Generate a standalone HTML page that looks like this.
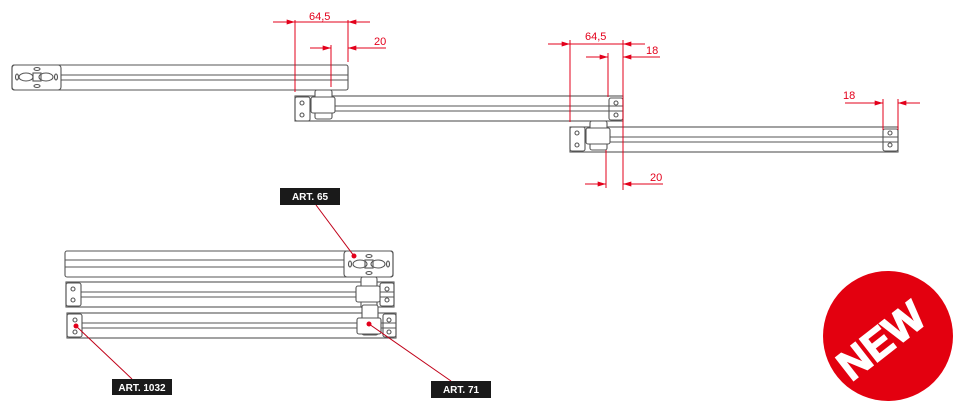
<!DOCTYPE html>
<html><head><meta charset="utf-8"><style>html,body{margin:0;padding:0;background:#fff;width:960px;height:414px;overflow:hidden}svg{display:block}</style></head>
<body>
<svg width="960" height="414" viewBox="0 0 960 414" xmlns="http://www.w3.org/2000/svg" font-family="Liberation Sans, sans-serif">
<defs>
<marker id="a" viewBox="0 0 10 6" refX="10" refY="3" markerWidth="10" markerHeight="5" orient="auto"><path d="M0,0L10,3L0,6z" fill="#e3001b"/></marker>
</defs>
<g fill="none" stroke="#555" stroke-width="1.1">
<rect x="12" y="65" width="336" height="25" rx="2"/>
<line x1="61" y1="75" x2="348" y2="75"/><line x1="61" y1="80" x2="348" y2="80"/>
<rect x="12" y="65" width="49" height="25" rx="3"/>
<ellipse cx="26" cy="77" rx="7" ry="4"/><ellipse cx="46" cy="77" rx="7" ry="4"/><rect x="33" y="73" width="8" height="8"/>
<ellipse cx="37" cy="69" rx="3" ry="1.5"/><ellipse cx="37" cy="86" rx="3" ry="1.5"/>
<ellipse cx="17" cy="77" rx="1.5" ry="3"/><ellipse cx="56" cy="77" rx="1.5" ry="3"/>
<rect x="295" y="96" width="328" height="25"/>
<line x1="310" y1="106" x2="623" y2="106"/><line x1="310" y1="111" x2="623" y2="111"/>
<rect x="295" y="97" width="15" height="24" rx="2"/><circle cx="302" cy="103" r="2"/><circle cx="302" cy="115" r="2"/>
<rect x="609" y="98" width="14" height="22" rx="2"/><circle cx="616" cy="103" r="2"/><circle cx="616" cy="115" r="2"/>
<rect x="315" y="90" width="17" height="29" rx="2" fill="#fff"/><rect x="311" y="97" width="24" height="16" rx="2" fill="#fff"/>
<rect x="570" y="127" width="328" height="25"/>
<line x1="585" y1="137" x2="898" y2="137"/><line x1="585" y1="142" x2="898" y2="142"/>
<rect x="570" y="127" width="15" height="24" rx="2"/><circle cx="577" cy="133" r="2"/><circle cx="577" cy="145" r="2"/>
<rect x="883" y="129" width="15" height="22" rx="2"/><circle cx="890" cy="133" r="2"/><circle cx="890" cy="145" r="2"/>
<rect x="590" y="121" width="17" height="29" rx="2" fill="#fff"/><rect x="586" y="128" width="24" height="16" rx="2" fill="#fff"/>
<rect x="65" y="251" width="328" height="26" rx="2"/>
<line x1="65" y1="260" x2="344" y2="260"/><line x1="65" y1="267" x2="344" y2="267"/>
<rect x="344" y="251" width="49" height="26" rx="3"/>
<ellipse cx="360" cy="264" rx="7" ry="4"/><ellipse cx="378" cy="264" rx="7" ry="4"/><rect x="365" y="260" width="8" height="8"/>
<ellipse cx="369" cy="256" rx="3" ry="1.5"/><ellipse cx="369" cy="273" rx="3" ry="1.5"/>
<ellipse cx="350" cy="264" rx="1.5" ry="3"/><ellipse cx="388" cy="264" rx="1.5" ry="3"/>
<rect x="66" y="282" width="328" height="25"/>
<line x1="81" y1="292" x2="394" y2="292"/><line x1="81" y1="297" x2="394" y2="297"/>
<rect x="66" y="283" width="15" height="23" rx="2"/><circle cx="73" cy="289" r="2"/><circle cx="73" cy="300" r="2"/>
<rect x="380" y="283" width="14" height="23" rx="2"/><circle cx="387" cy="289" r="2"/><circle cx="387" cy="300" r="2"/>
<rect x="361" y="277" width="16" height="31" rx="2" fill="#fff"/><rect x="356" y="286" width="24" height="16" rx="2" fill="#fff"/>
<rect x="67" y="313" width="329" height="25"/>
<line x1="82" y1="323" x2="396" y2="323"/><line x1="82" y1="328" x2="396" y2="328"/>
<rect x="67" y="314" width="15" height="23" rx="2"/><circle cx="75" cy="320" r="2"/><circle cx="75" cy="332" r="2"/>
<rect x="383" y="314" width="13" height="23" rx="2"/><circle cx="389" cy="320" r="2"/><circle cx="389" cy="332" r="2"/>
<rect x="362" y="305" width="16" height="30" rx="2" fill="#fff"/><rect x="357" y="318" width="24" height="16" rx="2" fill="#fff"/>
</g>
<g stroke="#e3001b" stroke-width="1" fill="none">
<line x1="295" y1="20" x2="295" y2="92"/><line x1="348" y1="20" x2="348" y2="62"/>
<line x1="273" y1="22" x2="295" y2="22" marker-end="url(#a)"/><line x1="295" y1="22" x2="348" y2="22"/><line x1="370" y1="22" x2="348" y2="22" marker-end="url(#a)"/>
<line x1="331" y1="45" x2="331" y2="87"/>
<line x1="310" y1="48" x2="331" y2="48" marker-end="url(#a)"/><line x1="386" y1="48" x2="348" y2="48" marker-end="url(#a)"/>
<line x1="570" y1="40" x2="570" y2="122"/><line x1="623" y1="40" x2="623" y2="190"/>
<line x1="548" y1="44" x2="570" y2="44" marker-end="url(#a)"/><line x1="570" y1="44" x2="623" y2="44"/><line x1="645" y1="44" x2="623" y2="44" marker-end="url(#a)"/>
<line x1="608" y1="53" x2="608" y2="97"/>
<line x1="586" y1="57" x2="608" y2="57" marker-end="url(#a)"/><line x1="660" y1="57" x2="623" y2="57" marker-end="url(#a)"/>
<line x1="606" y1="150" x2="606" y2="188"/>
<line x1="585" y1="184" x2="606" y2="184" marker-end="url(#a)"/><line x1="663" y1="184" x2="623" y2="184" marker-end="url(#a)"/>
<line x1="883" y1="99" x2="883" y2="130"/><line x1="898" y1="99" x2="898" y2="130"/>
<line x1="845" y1="103" x2="883" y2="103" marker-end="url(#a)"/><line x1="920" y1="103" x2="898" y2="103" marker-end="url(#a)"/>
</g>
<g fill="#e3001b" font-size="11">
<text x="309" y="20">64,5</text><text x="374" y="45">20</text>
<text x="585" y="40">64,5</text><text x="646" y="54">18</text>
<text x="650" y="181">20</text><text x="843" y="99">18</text>
</g>
<g stroke="#c00018" stroke-width="1">
<line x1="316" y1="205" x2="354" y2="256"/>
<line x1="132" y1="379" x2="76" y2="326"/>
<line x1="451" y1="381" x2="369" y2="324"/>
</g>
<g fill="#e3001b"><circle cx="354" cy="256" r="2.5"/><circle cx="76" cy="326" r="2.5"/><circle cx="369" cy="324" r="2.5"/></g>
<g font-size="10" font-weight="bold" fill="#fff">
<rect x="280" y="188" width="60" height="17" fill="#1a1a1a"/><text x="310" y="200" text-anchor="middle">ART. 65</text>
<rect x="112" y="379" width="60" height="16" fill="#1a1a1a"/><text x="142" y="391" text-anchor="middle">ART. 1032</text>
<rect x="431" y="381" width="60" height="17" fill="#1a1a1a"/><text x="461" y="393" text-anchor="middle">ART. 71</text>
</g>
<circle cx="888" cy="336" r="65" fill="#e3000f"/>
<text x="0" y="0" transform="translate(890,352) rotate(-38)" text-anchor="middle" font-size="42" font-weight="bold" fill="#fff" stroke="#fff" stroke-width="1.5">NEW</text>
</svg>
</body></html>
